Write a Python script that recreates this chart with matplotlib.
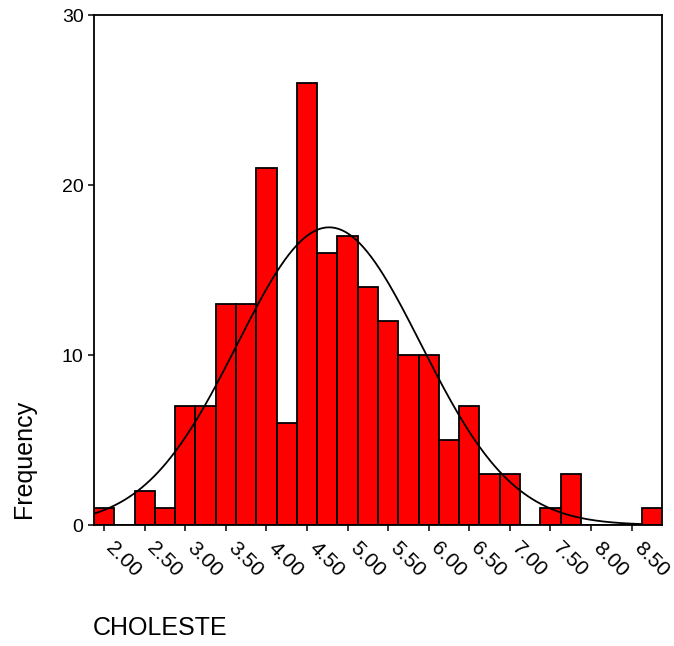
import numpy as np
import matplotlib
matplotlib.use("Agg")
import matplotlib.pyplot as plt
import matplotlib.transforms as mtransforms

plt.rcParams['font.family'] = ['Liberation Sans', 'DejaVu Sans']

# Histogram data (bin centers, width 0.25)
bin_start = 2.00
bin_width = 0.25
counts = [1, 0, 2, 1, 7, 7, 13, 13, 21, 6, 26, 16, 17, 14, 12, 10, 10, 5, 7, 3, 3, 0, 1, 3, 0, 0, 0, 1]
tick_values = [2.00, 2.50, 3.00, 3.50, 4.00, 4.50, 5.00, 5.50, 6.00, 6.50, 7.00, 7.50, 8.00, 8.50]
tick_labels = ["2.00", "2.50", "3.00", "3.50", "4.00", "4.50", "5.00", "5.50", "6.00", "6.50", "7.00", "7.50", "8.00", "8.50"]
y_ticks = [0, 10, 20, 30]
x_title = "CHOLESTE"
y_title = "Frequency"

counts = np.array(counts, dtype=float)
centers = bin_start + bin_width * np.arange(len(counts))

fig = plt.figure(figsize=(6.74, 6.46), dpi=100)
ax = fig.add_axes([94/674, 1-525/646, (662-94)/674, (525-15)/646])

ax.bar(centers, counts, width=bin_width, color='#ff0000', edgecolor='black', linewidth=1.3, zorder=2)

# normal curve fitted to data
N = counts.sum()
mean = (centers * counts).sum() / N
sd = np.sqrt(((centers - mean) ** 2 * counts).sum() / (N - 1))
xs = np.linspace(centers[0] - bin_width/2, centers[-1] - bin_width/2, 400)
ys = N * bin_width / (sd * np.sqrt(2*np.pi)) * np.exp(-0.5 * ((xs - mean)/sd) ** 2)
ax.plot(xs, ys, color='black', linewidth=1.3, zorder=3)

ax.set_xlim(centers[0] - bin_width/2, centers[-1] + bin_width/2)
ax.set_ylim(0, 30)
ax.set_yticks(y_ticks)
ax.set_yticklabels([str(v) for v in y_ticks], fontsize=14)
ax.set_xticks(tick_values)
ax.set_xticklabels(tick_labels, fontsize=15, rotation=-45, ha='left', va='center', rotation_mode='anchor')
ax.tick_params(axis='both', direction='out', length=4.5, width=1.1, color='black')
ax.tick_params(axis='y', pad=3)
ax.tick_params(axis='x', pad=10)
offset = mtransforms.ScaledTranslation(5/100, 0, fig.dpi_scale_trans)
for lab in ax.get_xticklabels():
    lab.set_transform(lab.get_transform() + offset)
for s in ax.spines.values():
    s.set_linewidth(1.3)
    s.set_color('black')

fig.text(24/674, 1-459/646, y_title, rotation=90, ha='center', va='center', fontsize=18)
fig.text(93/674, 1-628/646, x_title, ha='left', va='center', fontsize=18)

fig.savefig("out.png", dpi=100)
